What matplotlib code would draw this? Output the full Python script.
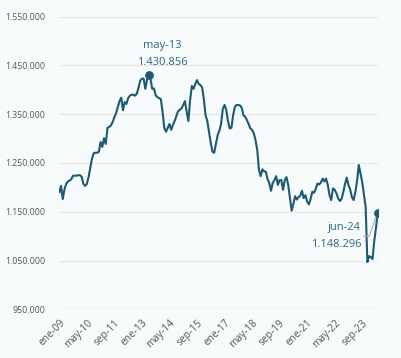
import matplotlib
matplotlib.use("Agg")
import matplotlib.pyplot as plt

plt.rcParams['font.family'] = ['Open Sans', 'DejaVu Sans']

start_year = 2009
month_names = ["ene", "feb", "mar", "abr", "may", "jun", "jul", "ago", "sep", "oct", "nov", "dic"]

values = [
    1190000, 1203000, 1176000, 1196000, 1207000, 1212000, 1214000, 1217000, 1224000, 1224000, 1224000, 1225000,
    1225000, 1222000, 1207000, 1203000, 1207000, 1221000, 1240000, 1259000, 1270000, 1271000, 1271000, 1273000,
    1293000, 1283000, 1301000, 1289000, 1322000, 1324000, 1327000, 1334000, 1344000, 1352000, 1365000, 1377000,
    1384000, 1358000, 1375000, 1371000, 1383000, 1388000, 1390000, 1390000, 1388000, 1392000, 1404000, 1419000,
    1423000, 1423000, 1402000, 1421000, 1430856, 1422000, 1402000, 1403000, 1389000, 1385000, 1383000, 1381000,
    1355000, 1322000, 1314000, 1322000, 1330000, 1318000, 1328000, 1336000, 1346000, 1356000, 1359000, 1362000,
    1369000, 1377000, 1355000, 1336000, 1379000, 1408000, 1402000, 1412000, 1420000, 1412000, 1410000, 1405000,
    1380000, 1348000, 1336000, 1314000, 1291000, 1273000, 1271000, 1289000, 1307000, 1316000, 1330000, 1361000,
    1369000, 1359000, 1336000, 1321000, 1322000, 1348000, 1365000, 1369000, 1369000, 1368000, 1363000, 1348000,
    1345000, 1338000, 1330000, 1321000, 1318000, 1311000, 1297000, 1277000, 1236000, 1223000, 1237000, 1233000,
    1232000, 1217000, 1209000, 1193000, 1209000, 1215000, 1223000, 1205000, 1215000, 1215000, 1195000, 1215000,
    1221000, 1205000, 1178000, 1152000, 1166000, 1182000, 1175000, 1180000, 1183000, 1193000, 1178000, 1184000,
    1171000, 1165000, 1176000, 1191000, 1189000, 1197000, 1208000, 1206000, 1210000, 1218000, 1212000, 1218000,
    1205000, 1184000, 1174000, 1198000, 1195000, 1188000, 1178000, 1172000, 1176000, 1190000, 1207000, 1220000,
    1205000, 1196000, 1180000, 1174000, 1190000, 1213000, 1246000, 1229000, 1211000, 1186000, 1160000, 1047000,
    1059000, 1057000, 1053000, 1090000, 1117000, 1148296,
]

labels = [f"{month_names[i % 12]}-{(start_year + i // 12) % 100:02d}" for i in range(len(values))]
tick_step = 16
y_ticks = [950000, 1050000, 1150000, 1250000, 1350000, 1450000, 1550000]

line_color = "#1d5a72"
text_color = "#2b6780"
bg = "#f7fbfc"

fig = plt.figure(figsize=(4.02, 3.58), dpi=100, facecolor=bg)
ax = fig.add_axes([59.3 / 402, 1 - 309.3 / 358, (377.7 - 59.3) / 402, (309.3 - 16.7) / 358])
ax.set_facecolor(bg)

x = list(range(len(values)))
ax.plot(x, values, color=line_color, lw=1.5, solid_joinstyle='round', zorder=3)

ax.set_xlim(0, len(values) - 1)
ax.set_ylim(950000, 1550000)
ax.set_yticks(y_ticks)
ax.set_yticklabels([f"{v:,.0f}".replace(",", ".") for v in y_ticks], fontsize=6.3, color="#555555")
ax.set_xticks(x[::tick_step])
ax.set_xticklabels(labels[::tick_step], rotation=45, ha='right', rotation_mode='anchor',
                   fontsize=7.3, color="#555555")
ax.tick_params(axis='both', length=0)
ax.tick_params(axis='y', pad=10)
ax.tick_params(axis='x', pad=6)
for s in ax.spines.values():
    s.set_visible(False)
ax.grid(axis='y', color="#ece7df", lw=0.9, zorder=0)
ax.axhline(950000, color="#d9d9d9", lw=1.0, zorder=1)

# peak annotation
ip = values.index(max(values))
ax.scatter([ip], [values[ip]], s=28, color=line_color, zorder=4)
ax.annotate(f"{labels[ip]}\n" + f"{values[ip]:,.0f}".replace(",", "."),
            xy=(ip, values[ip]), xytext=(10, 5), textcoords='offset points',
            ha='center', va='bottom', fontsize=8, color=text_color, linespacing=1.75)

# last annotation
il = len(values) - 1
ax.scatter([il], [values[il]], s=28, color=line_color, zorder=4)
ax.annotate(f"{labels[il]}\n" + f"{values[il]:,.0f}".replace(",", "."),
            xy=(il, values[il]), xytext=(-12, -17), textcoords='offset points',
            ha='right', va='center', fontsize=8, color=text_color, linespacing=1.75,
            arrowprops=dict(arrowstyle='-', color='#aaaaaa', lw=0.8,
                            connectionstyle='angle,angleA=0,angleB=70,rad=0',
                            shrinkA=0, shrinkB=2))

fig.savefig("out.png", dpi=100, facecolor=bg)
